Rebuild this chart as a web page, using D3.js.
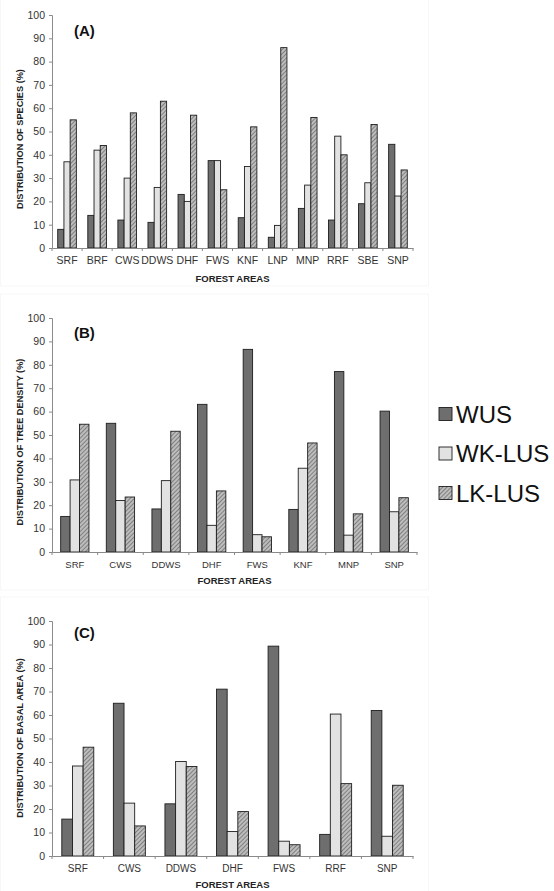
<!DOCTYPE html>
<html lang="en">
<head>
<meta charset="UTF-8">
<title>Forest areas</title>
<style>
  * { margin: 0; padding: 0; }
  html, body { overflow: hidden; background: #fff; }
  text { font-family: "Liberation Sans", Arial, sans-serif; }
</style>
</head>
<body>
<div id="chart"></div>
<script src="https://cdn.jsdelivr.net/npm/d3@7"></script>
<script>
const seriesNames = ['WUS', 'WK-LUS', 'LK-LUS']

// (A) species
const catsA = ['SRF', 'BRF', 'CWS', 'DDWS', 'DHF', 'FWS', 'KNF', 'LNP', 'MNP', 'RRF', 'SBE', 'SNP']
const wusA = [8, 14, 12, 11, 23, 37.5, 13, 4.6, 17, 12, 19, 44.5]
const wkA = [37, 42, 30, 26, 20, 37.5, 35, 9.7, 27, 48, 28, 22.3]
const lkA = [55, 44, 58, 63, 57, 25, 52, 86, 56, 40, 53, 33.5]

// (B) tree density
const catsB = ['SRF', 'CWS', 'DDWS', 'DHF', 'FWS', 'KNF', 'MNP', 'SNP']
const wusB = [15.2, 55, 18.4, 63.1, 86.6, 18.2, 77.1, 60.2]
const wkB = [30.8, 22, 30.5, 11.4, 7.4, 35.8, 7.2, 17.2]
const lkB = [54.6, 23.5, 51.6, 26.1, 6.5, 46.6, 16.3, 23.2]

// (C) basal area
const catsC = ['SRF', 'CWS', 'DDWS', 'DHF', 'FWS', 'RRF', 'SNP']
const wusC = [15.7, 65, 22.2, 71, 89.3, 9.2, 61.9]
const wkC = [38.3, 22.5, 40.2, 10.4, 6.3, 60.4, 8.4]
const lkC = [46.3, 12.8, 38.1, 18.9, 4.8, 30.8, 30.1]

const yTicks = d3.range(0, 101, 10)
const fills = ['#6e6e6e', '#e2e2e2', 'url(#hatch)']

const width = 554
const height = 891
const svg = d3.select('#chart')
  .append('svg')
  .attr('width', width)
  .attr('height', height)
  .style('background', '#fff')

// diagonal hatch for LK-LUS
const pat = svg.append('defs').append('pattern')
  .attr('id', 'hatch')
  .attr('patternUnits', 'userSpaceOnUse')
  .attr('width', 3)
  .attr('height', 3)
  .attr('patternTransform', 'rotate(45)')
pat.append('rect').attr('width', 3).attr('height', 3).attr('fill', '#bdbdbd')
pat.append('line').attr('x1', 0).attr('y1', 0).attr('x2', 0).attr('y2', 3)
  .attr('stroke', '#666').attr('stroke-width', 1.4)

function panel(opt) {
  const { cats, values, top, bottom, right, label, ytitle, labelY, titleY } = opt
  const left = 52
  const g = svg.append('g')

  // very faint panel frame like the scanned figure
  g.append('rect')
    .attr('x', 0.5).attr('y', top - 24)
    .attr('width', 428).attr('height', bottom - top + 62)
    .attr('fill', 'none').attr('stroke', '#f7f7f7')

  const y = d3.scaleLinear().domain([0, 100]).range([bottom, top])
  const x = d3.scaleBand().domain(cats).range([left, right])
  const groupW = x.bandwidth() * 0.62
  const xs = d3.scaleBand().domain(seriesNames).range([0, groupW])

  // y axis
  const yAxis = g.append('g')
    .attr('transform', `translate(${left},0)`)
    .call(d3.axisLeft(y).tickValues(yTicks).tickSize(3).tickPadding(4))
  yAxis.select('.domain').attr('stroke', '#8a8a8a')
  yAxis.selectAll('.tick line').attr('stroke', '#8a8a8a')
  yAxis.selectAll('.tick text')
    .attr('font-size', 10.5).attr('fill', '#333')
    .attr('font-family', '"Liberation Sans", Arial, sans-serif')

  // bars
  seriesNames.forEach((s, si) => {
    g.selectAll(`rect.s${si}`)
      .data(cats)
      .join('rect')
      .attr('class', `s${si}`)
      .attr('x', d => x(d) + (x.bandwidth() - groupW) / 2 + xs(s))
      .attr('y', (d, i) => y(values[si][i]))
      .attr('width', xs.bandwidth())
      .attr('height', (d, i) => bottom - y(values[si][i]))
      .attr('fill', fills[si])
      .attr('stroke', '#1e1e1e')
      .attr('stroke-width', 0.9)
  })

  // x axis
  const xAxis = g.append('g')
    .attr('transform', `translate(0,${bottom})`)
    .call(d3.axisBottom(x).tickSize(0).tickPadding(9))
  xAxis.select('.domain').attr('stroke', '#8a8a8a')
  xAxis.selectAll('.tick text')
    .attr('font-size', opt.catSize).attr('fill', '#333')
    .attr('font-family', '"Liberation Sans", Arial, sans-serif')
  const bounds = cats.map(c => x(c)).concat([right])
  g.selectAll('line.xt')
    .data(bounds)
    .join('line')
    .attr('class', 'xt')
    .attr('x1', d => d).attr('x2', d => d)
    .attr('y1', bottom).attr('y2', bottom + 3)
    .attr('stroke', '#8a8a8a')

  // panel letter
  g.append('text')
    .attr('x', 74).attr('y', labelY)
    .attr('font-size', 15).attr('font-weight', 'bold').attr('fill', '#111')
    .text(label)

  // axis titles
  g.append('text')
    .attr('transform', `translate(23,${titleY}) rotate(-90)`)
    .attr('text-anchor', 'middle')
    .attr('font-size', 9.2).attr('font-weight', 'bold').attr('fill', '#222')
    .text(ytitle)
  g.append('text')
    .attr('x', (left + right) / 2).attr('y', bottom + opt.xtitleOff)
    .attr('text-anchor', 'middle')
    .attr('font-size', 9.5).attr('font-weight', 'bold').attr('fill', '#222')
    .text('FOREST AREAS')
}

panel({ cats: catsA, values: [wusA, wkA, lkA], top: 15, bottom: 248, right: 413, xtitleOff: 34,
  label: '(A)', ytitle: 'DISTRIBUTION OF SPECIES (%)', labelY: 36, titleY: 139, catSize: 10.5 })
panel({ cats: catsB, values: [wusB, wkB, lkB], top: 318, bottom: 552, right: 417, xtitleOff: 32,
  label: '(B)', ytitle: 'DISTRIBUTION OF TREE DENSITY (%)', labelY: 338, titleY: 442, catSize: 9.5 })
panel({ cats: catsC, values: [wusC, wkC, lkC], top: 621, bottom: 856, right: 413, xtitleOff: 32,
  label: '(C)', ytitle: 'DISTRIBUTION OF BASAL AREA (%)', labelY: 638, titleY: 738, catSize: 10 })

// legend
const legendY = d3.scalePoint().domain(seriesNames).range([414, 493])
const legend = svg.append('g')
legend.selectAll('rect')
  .data(seriesNames)
  .join('rect')
  .attr('x', 439)
  .attr('y', d => legendY(d) - 6.5)
  .attr('width', 13)
  .attr('height', 13)
  .attr('fill', (d, i) => fills[i])
  .attr('stroke', '#1e1e1e')
  .attr('stroke-width', 0.9)
legend.selectAll('text')
  .data(seriesNames)
  .join('text')
  .attr('x', 456)
  .attr('y', d => legendY(d) + 8.5)
  .attr('font-size', 24)
  .attr('fill', '#111')
  .text(d => d)
</script>
</body>
</html>
